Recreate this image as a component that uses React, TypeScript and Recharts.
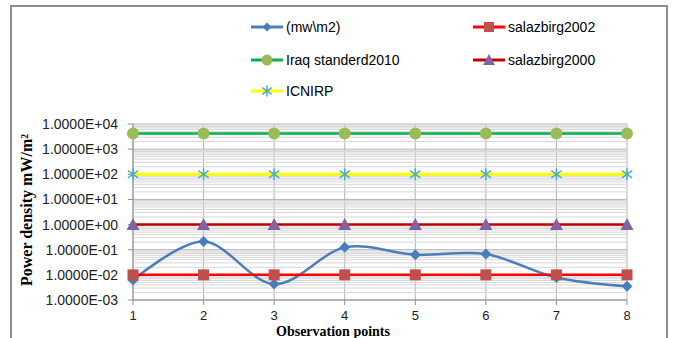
import React from "react";
import {
  LineChart,
  Line,
  CartesianGrid,
  XAxis,
  YAxis,
  ReferenceLine,
  Legend,
} from "recharts";

// observation points on the x axis
const points = ["1", "2", "3", "4", "5", "6", "7", "8"];

// measured power density (mW/m2)
const measured = [0.0062, 0.21, 0.0043, 0.124, 0.063, 0.067, 0.0078, 0.0035];
const salazbirg2002 = [0.01, 0.01, 0.01, 0.01, 0.01, 0.01, 0.01, 0.01];
const iraq2010 = [4200, 4200, 4200, 4200, 4200, 4200, 4200, 4200];
const salazbirg2000 = [1, 1, 1, 1, 1, 1, 1, 1];
const icnirp = [100, 100, 100, 100, 100, 100, 100, 100];

const yTicks = [0.001, 0.01, 0.1, 1, 10, 100, 1000, 10000];
const minorSteps = [2, 3, 4, 5, 6, 7, 8, 9];

const data = points.map((p, i) => ({
  point: p,
  measured: measured[i],
  salazbirg2002: salazbirg2002[i],
  iraq2010: iraq2010[i],
  salazbirg2000: salazbirg2000[i],
  icnirp: icnirp[i],
}));

const minorLines = yTicks
  .slice(0, -1)
  .flatMap((d) => minorSteps.map((m) => d * m));

const formatTick = (v: number) => {
  const e = Math.round(Math.log10(v));
  return `1.0000E${e < 0 ? "-" : "+"}${String(Math.abs(e)).padStart(2, "0")}`;
};

// Excel-like smoothed line (cardinal spline, k = 1/6)
const excelSmooth: any = (context: any) => {
  const k = 1 / 6;
  let x0 = NaN, x1 = NaN, x2 = NaN, y0 = NaN, y1 = NaN, y2 = NaN;
  let n = 0;
  let line = NaN;
  const seg = (x: number, y: number) => {
    context.bezierCurveTo(
      x1 + k * (x2 - x0),
      y1 + k * (y2 - y0),
      x2 + k * (x1 - x),
      y2 + k * (y1 - y),
      x2,
      y2
    );
  };
  return {
    areaStart() {
      line = 0;
    },
    areaEnd() {
      line = NaN;
    },
    lineStart() {
      x0 = x1 = x2 = y0 = y1 = y2 = NaN;
      n = 0;
    },
    lineEnd() {
      if (n === 2) context.lineTo(x2, y2);
      else if (n === 3) seg(x1, y1);
      if (line || (line !== 0 && n === 1)) context.closePath();
      line = 1 - line;
    },
    point(x: number, y: number) {
      x = +x;
      y = +y;
      if (n === 0) {
        n = 1;
        line ? context.lineTo(x, y) : context.moveTo(x, y);
      } else if (n === 1) {
        n = 2;
        x1 = x;
        y1 = y;
      } else {
        n = 3;
        seg(x, y);
      }
      x0 = x1; x1 = x2; x2 = x;
      y0 = y1; y1 = y2; y2 = y;
    },
  };
};

// marker shapes
const diamond = (cx: number, cy: number, r: number, key?: any) => (
  <path
    key={key}
    d={`M${cx},${cy - r}L${cx + r},${cy}L${cx},${cy + r}L${cx - r},${cy}Z`}
    fill="#4A7EBB"
  />
);
const square = (cx: number, cy: number, r: number, key?: any) => (
  <rect key={key} x={cx - r} y={cy - r} width={r * 2} height={r * 2} fill="#C0504D" />
);
const circle = (cx: number, cy: number, r: number, key?: any) => (
  <circle key={key} cx={cx} cy={cy} r={r} fill="#9BBB59" />
);
const triangle = (cx: number, cy: number, r: number, key?: any) => (
  <path
    key={key}
    d={`M${cx},${cy - r}L${cx + r},${cy + r * 0.85}L${cx - r},${cy + r * 0.85}Z`}
    fill="#8064A2"
  />
);
const star = (cx: number, cy: number, r: number, key?: any) => (
  <g key={key} stroke="#4BACC6" strokeWidth={1.5}>
    <line x1={cx} y1={cy - r} x2={cx} y2={cy + r} />
    <line x1={cx - r * 0.85} y1={cy - r * 0.6} x2={cx + r * 0.85} y2={cy + r * 0.6} />
    <line x1={cx - r * 0.85} y1={cy + r * 0.6} x2={cx + r * 0.85} y2={cy - r * 0.6} />
  </g>
);

const dotOf =
  (shape: (cx: number, cy: number, r: number, key?: any) => React.ReactElement, r: number) =>
  (p: any) =>
    p.cx == null || p.cy == null ? (
      <g key={p.index} />
    ) : (
      shape(p.cx, p.cy, r, p.index)
    );

const legendItems = [
  { label: "(mw\\m2)", color: "#4A7EBB", shape: diamond, r: 4.5, col: 0, row: 0 },
  { label: "salazbirg2002", color: "#FF0000", shape: square, r: 5, col: 1, row: 0 },
  { label: "Iraq standerd2010", color: "#00B050", shape: circle, r: 5.5, col: 0, row: 1 },
  { label: "salazbirg2000", color: "#C00000", shape: triangle, r: 6, col: 1, row: 1 },
  { label: "ICNIRP", color: "#FFFF00", shape: star, r: 5.5, col: 0, row: 2 },
];

const renderLegend = () => (
  <svg width={675} height={110}>
    {legendItems.map((it) => {
      const x = it.col === 0 ? 251 : 473;
      const y = [27, 60, 91][it.row];
      return (
        <g key={it.label}>
          <line x1={x} y1={y} x2={x + 32} y2={y} stroke={it.color} strokeWidth={3} />
          {it.shape(x + 16, y, it.r)}
          <text
            x={x + 35}
            y={y + 5}
            fontSize={14}
            fill="#000"
            fontFamily="Liberation Sans, Arial, sans-serif"
          >
            {it.label}
          </text>
        </g>
      );
    })}
  </svg>
);

const App: React.FC = () => {
  return (
    <div
      style={{
        position: "absolute",
        left: 0,
        top: 0,
        width: 675,
        height: 338,
        background: "#fff",
      }}
    >
      <div
        style={{
          position: "absolute",
          left: 10,
          top: 5,
          width: 654,
          height: 340,
          border: "2px solid #8e8e8e",
        }}
      />
      <div style={{ position: "absolute", left: 0, top: 0 }}>
        <LineChart
          width={675}
          height={338}
          data={data}
          margin={{ top: 124, right: 48, left: 0, bottom: 0 }}
          style={{ fontFamily: "Liberation Sans, Arial, sans-serif" }}
        >
          {minorLines.map((v) => (
            <ReferenceLine key={v} y={v} stroke="#d6d6d6" strokeWidth={1} />
          ))}
          <CartesianGrid stroke="#b4b4b4" strokeDasharray="" />
          <XAxis
            dataKey="point"
            height={38}
            tickSize={5}
            tickMargin={6}
            stroke="#8e8e8e"
            tick={{ fill: "#222", fontSize: 13 }}
            tickLine={{ stroke: "#8e8e8e" }}
            label={(props: any) => {
              const vb = props.viewBox;
              return (
                <text
                  x={vb.x + 200}
                  y={336}
                  textAnchor="middle"
                  fontSize={14}
                  fontWeight="bold"
                  fontFamily="Liberation Serif, Times New Roman, serif"
                  fill="#000"
                >
                  Observation points
                </text>
              );
            }}
          />
          <YAxis
            scale="log"
            domain={[0.001, 10000]}
            ticks={yTicks}
            allowDataOverflow
            width={133}
            tickSize={5}
            tickMargin={10}
            stroke="#8e8e8e"
            tick={{ fill: "#222", fontSize: 14 }}
            tickFormatter={formatTick}
            label={(props: any) => {
              const vb = props.viewBox;
              const cy = vb.y + vb.height / 2 - 2;
              return (
                <text
                  x={28}
                  y={cy}
                  transform={`rotate(-90 28 ${cy})`}
                  textAnchor="middle"
                  dominantBaseline="middle"
                  fontSize={16}
                  fontWeight="bold"
                  fontFamily="Liberation Serif, Times New Roman, serif"
                  fill="#000"
                >
                  Power density  mW/m²
                </text>
              );
            }}
          />
          <Legend
            layout="horizontal"
            verticalAlign="middle"
            align="center"
            content={renderLegend}
            wrapperStyle={{ position: "absolute", left: 0, top: 0, width: 675, height: 110 }}
          />
          <Line
            dataKey="measured"
            type={excelSmooth}
            stroke="#4A7EBB"
            strokeWidth={2.5}
            dot={dotOf(diamond, 5.5)}
            activeDot={false}
            isAnimationActive={false}
          />
          <Line
            dataKey="salazbirg2002"
            type="linear"
            stroke="#FF0000"
            strokeWidth={2.5}
            dot={dotOf(square, 5.5)}
            activeDot={false}
            isAnimationActive={false}
          />
          <Line
            dataKey="iraq2010"
            type="linear"
            stroke="#00B050"
            strokeWidth={2.5}
            dot={dotOf(circle, 6)}
            activeDot={false}
            isAnimationActive={false}
          />
          <Line
            dataKey="salazbirg2000"
            type="linear"
            stroke="#C00000"
            strokeWidth={2.5}
            dot={dotOf(triangle, 6.5)}
            activeDot={false}
            isAnimationActive={false}
          />
          <Line
            dataKey="icnirp"
            type="linear"
            stroke="#FFFF00"
            strokeWidth={3}
            dot={dotOf(star, 6)}
            activeDot={false}
            isAnimationActive={false}
          />
        </LineChart>
      </div>
    </div>
  );
};

export default App;
